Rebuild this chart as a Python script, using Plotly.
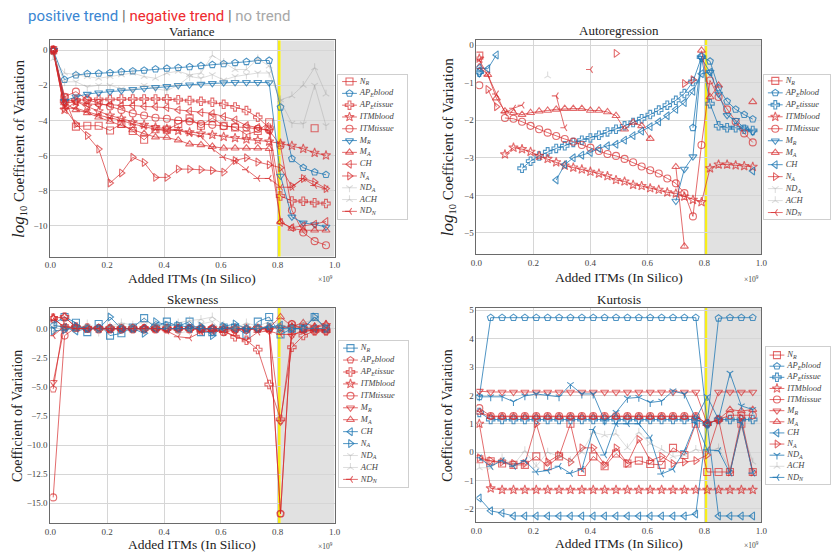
import plotly.graph_objects as go

N = None

# ---------------- x positions (x 1e9 added ITMs) ----------------
x04 = [0.01, 0.05, 0.09, 0.13, 0.17, 0.21, 0.25, 0.29, 0.33, 0.37, 0.41, 0.45, 0.49,
       0.53, 0.57, 0.61, 0.65, 0.69, 0.73, 0.77, 0.81, 0.85, 0.89, 0.93, 0.97]
x03 = [0.01, 0.04, 0.07, 0.10, 0.13, 0.16, 0.19, 0.22, 0.25, 0.28, 0.31, 0.34, 0.37,
       0.40, 0.43, 0.46, 0.49, 0.52, 0.55, 0.58, 0.61, 0.64, 0.67, 0.70, 0.73, 0.76,
       0.79, 0.82, 0.85, 0.88, 0.91, 0.94, 0.97]
x_ticks = [0.0, 0.2, 0.4, 0.6, 0.8, 1.0]
regime_line = 0.805
regime_start = 0.81
regime_end = 1.0

series_labels = ["<i>N<sub>R</sub></i>", "<i>AP<sub>E</sub>blood</i>", "<i>AP<sub>E</sub>tissue</i>",
                 "<i>ITMblood</i>", "<i>ITMtissue</i>", "<i>M<sub>R</sub></i>", "<i>M<sub>A</sub></i>",
                 "<i>CH</i>", "<i>N<sub>A</sub></i>", "<i>ND<sub>A</sub></i>", "<i>ACH</i>",
                 "<i>ND<sub>N</sub></i>"]
series_symbols = ["square-open", "pentagon-open", "cross-open", "star-open", "circle-open",
                  "triangle-down-open", "triangle-up-open", "triangle-left-open",
                  "triangle-right-open", "y-down-open", "y-up-open", "y-left-open"]
series_sizes = [7, 7, 7, 7, 7, 7, 7, 7, 7, 5.5, 5.5, 5.5]

# ---------------- Variance ----------------
var_NR = [0, -2.7, -4.35, -4.3, -4.3, -4.57, -4.2, -4.6, -5.1, -4.5, -4.52, -4.2, -3.88,
          -4.3, -3.87, -4.3, -4.4, -4.8, -4.6, -4.1, N, N, N, -4.44, N]
var_APEb = [0, -1.68, -1.42, -1.34, -1.32, -1.29, -1.23, -1.19, -1.15, -1.08, -1.04, -1.0, -0.95,
            -0.89, -0.83, -0.78, -0.72, -0.66, -0.59, -0.59, -3.25, -6.18, -6.69, -6.94, -7.09]
var_APEt = [0, -2.91, -2.84, -2.8, -2.8, -2.8, -2.78, -2.78, -2.78, -2.78, -2.78, -2.82, -2.87,
            -2.91, -2.97, -3.08, -3.23, -3.44, -3.82, -4.44, -8.3, -8.58, -8.6, -8.68, -8.73]
var_ITMb = [0, -3.4, -2.93, -3.21, -3.48, -3.72, -3.89, -4.1, -4.25, -4.39, -4.48, -4.59, -4.67,
            -4.74, -4.82, -4.93, -5.0, -5.08, -5.12, -5.2, -5.31, -5.44, -5.61, -5.84, -5.99]
var_ITMt = [0, -2.65, -2.36, -2.83, -3.0, -3.2, -3.4, -3.6, -3.72, -3.85, -3.9, -4.0, -4.05,
            -4.2, -4.25, -4.33, -4.37, -4.4, -4.48, -4.56, -5.43, -9.11, -10.38, -10.87, -11.1]
var_MR = [0, -2.9, -2.65, -2.5, -2.42, -2.36, -2.3, -2.23, -2.17, -2.12, -2.06, -2.0, -1.97,
          -1.93, -1.89, -1.85, -1.83, -1.83, -1.83, -1.85, -7.16, -9.49, -9.83, -9.92, -10.06]
var_MA = [0, -3.0, -3.4, -3.57, -3.82, -4.06, -4.29, -4.54, -4.75, -4.95, -4.97, -5.12, -5.35,
          -5.39, -5.48, -5.58, -5.58, -5.58, -5.58, -5.61, -9.77, -10.15, -10.25, -10.25, -10.25]
var_CH = [0, -3.0, -2.95, -3.05, -3.1, -3.1, -3.15, -3.15, -3.2, -3.22, -3.27, -3.4, -3.46,
          -3.55, -3.6, -3.78, -3.97, -4.29, -4.4, -4.6, -9.8, -10.1, -10.0, -9.9, -9.75]
var_NA = [0, -3.3, -4.2, -4.86, -5.63, -7.56, -6.99, -6.1, -6.39, -7.24, -7.24, -6.77, -6.77,
          -6.8, -6.85, -6.94, -6.28, -6.12, -6.37, -6.52, -6.69, -7.75, -7.3, -7.5, -7.88]
var_NDA = [-0.3, -1.8, -1.8, -2.1, -2.0, -2.0, -2.2, -2.3, -2.0, -2.2, -2.3, -2.0, -1.5,
           -1.6, -1.4, -1.7, -1.5, -1.4, -1.3, -1.3, -2.9, -4.16, -4.2, -2.0, -4.3]
var_ACH = [-0.5, -1.3, -1.4, -1.5, -1.6, -1.5, -1.4, -1.3, -1.5, -1.6, -1.3, -1.2, -1.4,
           -1.3, -0.3, -0.7, -1.1, -1.1, -0.5, -0.9, -2.83, -2.6, -2.0, -1.0, -2.5]
var_NDN = [-0.1, -3.3, -3.3, -3.5, -3.7, -3.85, -4.0, -4.2, -4.35, -4.5, -4.6, -4.55, -4.75,
           -4.9, -5.6, -6.1, -6.3, -6.8, -7.3, -7.3, -7.8, -7.8, -7.3, -7.7, -7.9]
var_trend = ["neg", "pos", "neg", "neg", "neg", "pos", "neg", "neg", "neg", "none", "none", "neg"]

# ---------------- Autoregression ----------------
ar_NR = [-0.28, N, N, N, N, N, N, N, N, N, N, N, N, N, N, N, N, N, N, N, N, N, N, N, N, N,
         N, N, N, N, N, N, N]
ar_APEb = [-0.7, N, N, N, N, N, N, N, N, N, N, N, N, N, N, N, N, N, N, N, N, N, N, N, N,
           -2.2, -0.3, -0.43, -1.14, -1.5, -1.71, -1.85, -1.97]
ar_APEt = [-0.72, N, N, N, N, -3.28, -3.09, -2.95, -2.84, -2.75, -2.68, -2.59, -2.53, -2.47,
           -2.4, -2.31, -2.24, -2.15, -2.06, -1.96, -1.85, -1.73, -1.6, -1.47, -1.29, -0.97,
           -0.32, -1.56, -2.15, -2.2, -2.2, -2.24, -2.27]
ar_ITMb = [-0.36, N, N, -2.91, -2.73, -2.77, -2.84, -2.95, -3.03, -3.12, -3.21, -3.26, -3.31,
           -3.37, -3.42, -3.49, -3.59, -3.63, -3.72, -3.75, -3.81, -3.85, -3.92, -3.95, -4.03,
           -4.12, -4.18, -3.28, -3.18, -3.18, -3.2, -3.22, -3.24]
ar_ITMt = [-1.07, N, N, -1.94, -1.96, -2.04, -2.15, -2.24, -2.33, -2.42, -2.5, -2.57, -2.66,
           -2.73, -2.82, -2.9, -2.95, -3.03, -3.12, -3.23, -3.33, -3.42, -3.55, -3.68, -3.94,
           -4.56, -2.66, -0.94, -1.38, -1.71, -2.04, -2.35, -2.59]
ar_MR = [-0.76, N, N, N, N, N, N, N, N, N, N, N, N, N, N, N, N, N, N, N, N, N, N,
         -4.15, -3.3, -2.97, -0.35, -0.72, -1.3, -1.87, -2.0, -2.2, -2.31]
ar_MA = [-0.58, -0.79, -1.41, -1.76, -1.8, -1.85, -1.8, -1.76, -1.74, -1.71, -1.69, -1.69,
         -1.69, -1.74, -1.74, -1.78, -1.88, -2.24, -2.06, -2.15, -2.49, N, N, -3.24, -5.36, N,
         -0.14, -1.38, -1.07, N, N, N, -1.51]
ar_CH = [-0.6, -0.63, -0.26, N, N, N, N, N, N, -3.59, -3.18, -3.0, -2.93, -2.86, -2.75, -2.68,
         -2.64, -2.53, -2.41, -2.29, -2.17, -2.04, -1.88, -1.71, -1.53, -1.23, -0.76, -0.72,
         N, N, N, N, -3.35]
ar_NA = [N, -1.18, -1.64, N, N, N, N, N, N, N, N, N, N, N, N, N, -0.22, N, N, N, N, N, N, N,
         -1.02, -0.92, N, N, N, N, N, N, N]
ar_NDA = []
ar_ACH = [N, N, N, N, N, N, N, N, -0.82, N, N, N, N, N, N, N, N, N, N, N, N, N, N, N, N, N,
          N, N, N, N, N, N, N]
ar_NDN = [-0.4, -0.8, -1.3, -1.8, -1.68, -1.6, N, N, N, -1.35, -2.2, N, N, -0.65, N, N, N,
          N, N, N, N, N, N, N, N, N, N, N, N, N, N, N, N]
ar_trend = ["neg", "pos", "pos", "neg", "neg", "pos", "neg", "pos", "neg", "none", "none", "neg"]

# ---------------- Skewness ----------------
sk_NR = [0.4, 1.0, 0.5, -0.3, 0.4, -0.6, -0.4, 0.1, 0.9, 0.1, 0.6, 0.2, 0.6, -0.3, -0.3, 0.1,
         0.1, -0.5, 0.6, 1.0, -0.5, 0.0, 0.0, 1.0, 0.0]
sk_APEb = [-5.2, 1.0, 0.1, 0.05, 0.0, 0.0, 0.0, 0.0, 0.0, 0.0, 0.0, 0.0, 0.05, 0.0, 0.0, 0.0,
           0.0, 0.0, 0.0, 0.0, -15.9, 0.4, 0.0, 0.0, 0.0]
sk_APEt = [0.9, 1.0, 0.15, 0.05, 0.0, 0.0, 0.0, 0.0, 0.0, 0.0, 0.0, 0.0, 0.0, -0.1, -0.1, -0.2,
           -0.7, -1.0, -1.8, -4.8, -7.8, -1.6, -0.6, -0.2, -0.2]
sk_ITMb = [0.9, 0.1, 0.05, 0.0, 0.0, 0.0, 0.0, 0.0, 0.0, 0.0, 0.0, 0.0, 0.0, 0.0, 0.0, 0.0,
           0.0, 0.0, 0.0, 0.0, 0.1, 0.1, 0.0, 0.1, 0.3]
sk_ITMt = [-14.5, -0.6, 0.1, 0.0, 0.0, 0.0, 0.0, 0.0, 0.0, 0.0, 0.0, 0.0, 0.0, 0.0, 0.0, -0.3,
           -0.1, -0.1, 0.0, 0.0, -15.9, 0.4, -0.1, -0.2, -0.2]
sk_MR = [-4.6, 0.2, 0.1, 0.0, 0.0, 0.0, 0.0, 0.0, 0.0, 0.0, 0.0, 0.0, 0.0, 0.0, 0.0, 0.0,
         -0.1, -0.1, 0.0, -0.2, -8.0, -0.6, -0.1, -0.1, -0.1]
sk_MA = [0.9, 0.1, 0.0, 0.0, 0.0, 0.0, 0.0, 0.0, 0.0, 0.0, 0.0, 0.0, 0.0, 0.0, 0.0, 0.0, 0.0,
         0.0, 0.0, 0.1, 1.0, 0.2, 0.5, 0.2, 0.4]
sk_CH = [0.3, 0.1, -0.2, 0.0, 0.0, 0.0, 0.0, 0.0, 0.0, 0.0, 0.0, 0.0, 0.0, 0.0, 0.0, 0.0, 0.0,
         0.0, 0.0, 0.1, 0.3, 0.0, 0.0, 0.0, 0.0]
sk_NA = [-0.2, -0.1, 0.2, 0.0, 0.0, 1.0, 0.0, 0.0, -0.4, 0.6, 0.3, 0.3, 0.1, 0.2, -0.6, 0.2,
         0.4, 0.0, 0.0, 0.2, 0.0, 0.0, 0.0, 1.0, 0.0]
sk_NDA = [-0.3, 0.0, 0.1, 0.2, -0.3, 0.1, 0.3, 0.0, -0.2, 0.1, 0.2, -0.4, -0.2, 0.4, 0.6, -0.3,
          0.1, 0.2, 0.0, 0.3, -0.3, 0.2, 0.0, 0.1, 0.0]
sk_ACH = [0.2, 0.3, -0.1, 0.4, 0.0, 0.2, 0.5, 0.3, 0.6, 0.4, 0.2, 0.5, 0.7, 0.8, 1.0, 0.3, 0.0,
          0.5, 0.2, 0.6, 0.4, 0.0, 0.5, 0.8, 0.2]
sk_NDN = [-0.6, 0.2, 0.0, 0.0, 0.0, 0.0, 0.0, 0.0, 0.0, 0.0, -0.2, -0.7, -0.8, -0.3, -0.2, -0.3,
          -0.6, -1.0, -0.3, -0.2, -0.5, -0.5, -0.3, -0.1, -0.1]
sk_trend = ["pos", "neg", "neg", "neg", "neg", "neg", "neg", "pos", "pos", "none", "none", "neg"]

# ---------------- Kurtosis ----------------
ku_NR = [-0.25, -0.32, -0.4, -0.45, -0.45, -0.15, -0.5, -0.15, 1.0, -0.7, -0.15, -0.5, -0.05,
         -0.4, -0.3, -0.42, -0.45, 0.15, -0.1, 1.0, -0.7, -0.7, -0.7, 1.0, -0.7]
ku_APEb = [1.95, 4.74, 4.74, 4.74, 4.74, 4.74, 4.74, 4.74, 4.74, 4.74, 4.74, 4.74, 4.74, 4.74,
           4.74, 4.74, 4.74, 4.74, 4.74, 4.74, 1.0, 4.72, 4.74, 4.74, 4.74]
ku_APEt = [1.4, 1.15, 1.15, 1.15, 1.15, 1.15, 1.15, 1.15, 1.15, 1.15, 1.15, 1.15, 1.15, 1.15,
           1.15, 1.15, 1.15, 1.15, 1.15, 1.15, 1.0, 1.15, 1.15, 1.15, 1.15]
ku_ITMb = [1.0, -1.28, -1.33, -1.33, -1.33, -1.33, -1.33, -1.33, -1.33, -1.33, -1.33, -1.33,
           -1.33, -1.33, -1.33, -1.33, -1.33, -1.33, -1.33, -1.33, -1.33, -1.33, -1.33, -1.33,
           -1.33]
ku_ITMt = [1.55, 1.27, 1.27, 1.27, 1.27, 1.27, 1.27, 1.27, 1.27, 1.27, 1.27, 1.27, 1.27, 1.27,
           1.27, 1.27, 1.27, 1.27, 1.27, 1.27, 1.0, 1.15, 1.3, 1.3, 1.3]
ku_MR = [2.15, 2.12, 2.12, 2.12, 2.12, 2.12, 2.12, 2.12, 2.12, 2.12, 2.12, 2.12, 2.12, 2.12,
         2.12, 2.12, 2.12, 2.12, 2.12, 2.12, 1.0, 2.12, 2.12, 2.12, 2.12]
ku_MA = [1.4, 1.25, 1.25, 1.25, 1.25, 1.25, 1.25, 1.25, 1.25, 1.25, 1.25, 1.25, 1.25, 1.25,
         1.25, 1.25, 1.25, 1.25, 1.25, 1.25, 1.0, 1.15, 1.5, 1.45, 1.5]
ku_CH = [-1.62, -2.07, -2.15, -2.25, -2.25, -2.25, -2.25, -2.25, -2.25, -2.25, -2.25, -2.25,
         -2.25, -2.25, -2.25, -2.25, -2.25, -2.25, -2.25, -2.18, 1.0, -2.25, -2.25, -2.25, -2.25]
ku_NA = [-0.2, -0.3, -0.35, -0.4, -0.4, 1.0, -0.35, -0.1, -0.35, 0.15, 0.15, -0.45, 0.15, -0.4,
         0.45, -0.3, -0.15, -0.4, -0.35, -0.3, -0.1, 1.15, -0.7, 1.2, -0.7]
ku_NDA = [1.95, 1.95, 1.95, 1.78, 1.98, 2.05, 2.0, 1.95, 2.38, 2.05, 2.05, 1.1, 1.4, 1.9, 1.93,
          1.75, 1.8, 2.16, 2.05, 1.17, 1.96, 1.15, 2.78, 1.63, 1.5]
ku_ACH = [-0.55, -0.55, -0.2, -0.45, 0.05, -0.5, 0.0, -0.15, -0.3, 0.0, 0.7, 0.6, 0.65, 0.15,
          0.7, 0.3, 0.1, -0.15, -0.1, 0.1, 0.0, 0.15, -0.6, 0.9, -0.35]
ku_NDN = [-0.2, -0.5, -0.3, -0.5, -0.3, -0.7, -0.65, -0.5, -0.75, -0.6, 0.8, -0.1, 1.0, 1.0,
          1.0, 0.5, -0.77, -0.6, 0.05, 1.05, 0.08, 0.05, -0.74, 1.05, -0.74]
ku_trend = ["neg", "pos", "pos", "neg", "neg", "neg", "neg", "pos", "neg", "pos", "none", "pos"]

# ---------------- styling ----------------
W, H = 836, 553
SERIF = "Liberation Serif, DejaVu Serif, serif"
TREND_COLORS = {"pos": "rgba(31,119,180,0.78)", "neg": "rgba(214,39,40,0.68)",
                "none": "rgba(150,150,150,0.32)"}

panels = [
    dict(title="Variance", x=x04, ax="", trend=var_trend,
         data=[var_NR, var_APEb, var_APEt, var_ITMb, var_ITMt, var_MR, var_MA, var_CH, var_NA,
               var_NDA, var_ACH, var_NDN],
         box=(45, 333.3, 37.7, 255), yrange=[-11.75, 0.55], dtick=2, yfmt="d",
         ytitle='<span style="font-size:17px"><i>log</i></span><sub>10</sub> Coefficient of Variation',
         yts=15, yshift=-32, xshift_title=-21.5, leg=(337, 407, 72, 217, 79, 209.5)),
    dict(title="Autoregression", x=x03, ax="2", trend=ar_trend,
         data=[ar_NR, ar_APEb, ar_APEt, ar_ITMb, ar_ITMt, ar_MR, ar_MA, ar_CH, ar_NA,
               ar_NDA, ar_ACH, ar_NDN],
         box=(477.3, 766.3, 36.7, 252.3), yrange=[-5.56, 0.15], dtick=1, yfmt="d",
         ytitle='<span style="font-size:17px"><i>log</i></span><sub>10</sub> Coefficient of Variation',
         yts=15, yshift=-29, xshift_title=-24, leg=(769, 836, 72.7, 216.7, 78.3, 210.7)),
    dict(title="Skewness", x=x04, ax="3", trend=sk_trend,
         data=[sk_NR, sk_APEb, sk_APEt, sk_ITMb, sk_ITMt, sk_MR, sk_MA, sk_CH, sk_NA,
               sk_NDA, sk_ACH, sk_NDN],
         box=(45, 333.3, 306.7, 523.3), yrange=[-16.74, 1.77], dtick=2.5, yfmt=".1f",
         ytitle="Coefficient of Variation", yts=14, yshift=-33, xshift_title=-21.5,
         leg=(338, 408, 340, 487, 347, 479)),
    dict(title="Kurtosis", x=x04, ax="4", trend=ku_trend,
         data=[ku_NR, ku_APEb, ku_APEt, ku_ITMb, ku_ITMt, ku_MR, ku_MA, ku_CH, ku_NA,
               ku_NDA, ku_ACH, ku_NDN],
         box=(477.3, 766.3, 306.7, 522.3), yrange=[-2.48, 5.08], dtick=1, yfmt="d",
         ytitle="Coefficient of Variation", yts=14, yshift=-29, xshift_title=-21.5,
         leg=(770.7, 836, 346, 484, 354, 477)),
]

fig = go.Figure()
layout = dict(width=W, height=H, margin=dict(l=0, r=0, t=0, b=0),
              paper_bgcolor="white", plot_bgcolor="white", showlegend=False,
              hovermode=False, font=dict(family=SERIF, color="#333"))
annotations = []
shapes = []

axis_common = dict(showgrid=True, gridcolor="#d6d6d6", gridwidth=1, zeroline=False,
                   showline=True, mirror=True, linecolor="#6a6a6a", linewidth=1,
                   ticks="", tickfont=dict(family=SERIF, size=9, color="#444"))

for k, p in enumerate(panels):
    ax = p["ax"]
    xa, ya = "x" + ax, "y" + ax
    left, right, top, bottom = p["box"]
    layout["xaxis" + ax] = dict(axis_common, domain=[left / W, right / W], anchor=ya,
                                range=[0, 1.0], tickvals=x_ticks, tickformat=".1f")
    layout["yaxis" + ax] = dict(axis_common, domain=[1 - bottom / H, 1 - top / H], anchor=xa,
                                range=p["yrange"], dtick=p["dtick"], tick0=0,
                                tickformat=p["yfmt"])
    shapes.append(dict(type="rect", xref=xa, yref=ya + " domain", x0=regime_start,
                       x1=regime_end, y0=0, y1=1, fillcolor="#e1e1e1", line=dict(width=0),
                       layer="below"))
    shapes.append(dict(type="line", xref=xa, yref=ya + " domain", x0=regime_line,
                       x1=regime_line, y0=0, y1=1, line=dict(color="#f7ee1a", width=3),
                       layer="below"))
    for i, ys in enumerate(p["data"]):
        col = TREND_COLORS[p["trend"][i]]
        fig.add_trace(go.Scatter(
            x=p["x"][:len(ys)], y=ys, xaxis=xa, yaxis=ya, mode="lines+markers",
            line=dict(color=col, width=1),
            marker=dict(symbol=series_symbols[i], size=series_sizes[i], color=col,
                        line=dict(color=col, width=1.1)),
            connectgaps=False))
    # panel title, axis titles
    annotations.append(dict(text=p["title"], xref=xa + " domain", yref=ya + " domain",
                            x=0.5, y=1, yshift=9, xanchor="center", yanchor="middle",
                            showarrow=False, font=dict(family=SERIF, size=13, color="#222")))
    annotations.append(dict(text="Added ITMs (In Silico)", xref=xa + " domain",
                            yref=ya + " domain", x=0.5, y=0, yshift=p["xshift_title"],
                            xanchor="center", yanchor="middle", showarrow=False,
                            font=dict(family=SERIF, size=13.5, color="#222")))
    annotations.append(dict(text="×10<sup>9</sup>", xref=xa + " domain", yref=ya + " domain",
                            x=1, y=0, yshift=p["xshift_title"] - 1, xanchor="right",
                            yanchor="middle", showarrow=False,
                            font=dict(family=SERIF, size=7.5, color="#444")))
    annotations.append(dict(text=p["ytitle"], xref=xa + " domain", yref=ya + " domain",
                            x=0, y=0.5, xshift=p["yshift"], xanchor="center",
                            yanchor="middle", textangle=-90, showarrow=False,
                            font=dict(family=SERIF, size=p["yts"], color="#222")))

    # legend box built on its own hidden axes
    lx0, lx1, ly0, ly1, lfirst, llast = p["leg"]
    lax = str(5 + k)
    unit_y = (llast - lfirst) / 11.0
    unit_x = 7.5
    layout["xaxis" + lax] = dict(domain=[lx0 / W, min(lx1 / W, 1.0)], anchor="y" + lax,
                                 range=[-4 / unit_x, (lx1 - lx0 - 4) / unit_x],
                                 showgrid=False, zeroline=False, showticklabels=False,
                                 ticks="", showline=True, mirror=True, linecolor="#cfcfcf",
                                 fixedrange=True)
    layout["yaxis" + lax] = dict(domain=[1 - ly1 / H, 1 - ly0 / H], anchor="x" + lax,
                                 range=[11 + (ly1 - llast) / unit_y, -(lfirst - ly0) / unit_y],
                                 showgrid=False, zeroline=False, showticklabels=False,
                                 ticks="", showline=True, mirror=True, linecolor="#cfcfcf",
                                 fixedrange=True)
    for i, lab in enumerate(series_labels):
        col = TREND_COLORS[p["trend"][i]]
        fig.add_trace(go.Scatter(
            x=[0, 1, 2], y=[i, i, i], xaxis="x" + lax, yaxis="y" + lax,
            mode="lines+markers",
            line=dict(color=col, width=1),
            marker=dict(symbol=series_symbols[i], size=series_sizes[i], color=col,
                        opacity=[0, 1, 0], line=dict(color=col, width=1.1))))
        fig.add_trace(go.Scatter(
            x=[2.4], y=[i], xaxis="x" + lax, yaxis="y" + lax, mode="text",
            text=[lab], textposition="middle right",
            textfont=dict(family=SERIF, size=8.5, color="#444")))

annotations.append(dict(
    text='<span style="color:#3a86d2">positive trend</span>'
         '<span style="color:#666"> | </span>'
         '<span style="color:#ee2a2e">negative trend</span>'
         '<span style="color:#666"> | </span>'
         '<span style="color:#a8a8a8">no trend</span>',
    xref="paper", yref="paper", x=20 / W, y=1 - 13 / H, xanchor="left", yanchor="middle",
    showarrow=False, font=dict(family="Roboto, Open Sans, sans-serif", size=15)))

layout["annotations"] = annotations
layout["shapes"] = shapes
fig.update_layout(**layout)
fig.write_html("out.html")
